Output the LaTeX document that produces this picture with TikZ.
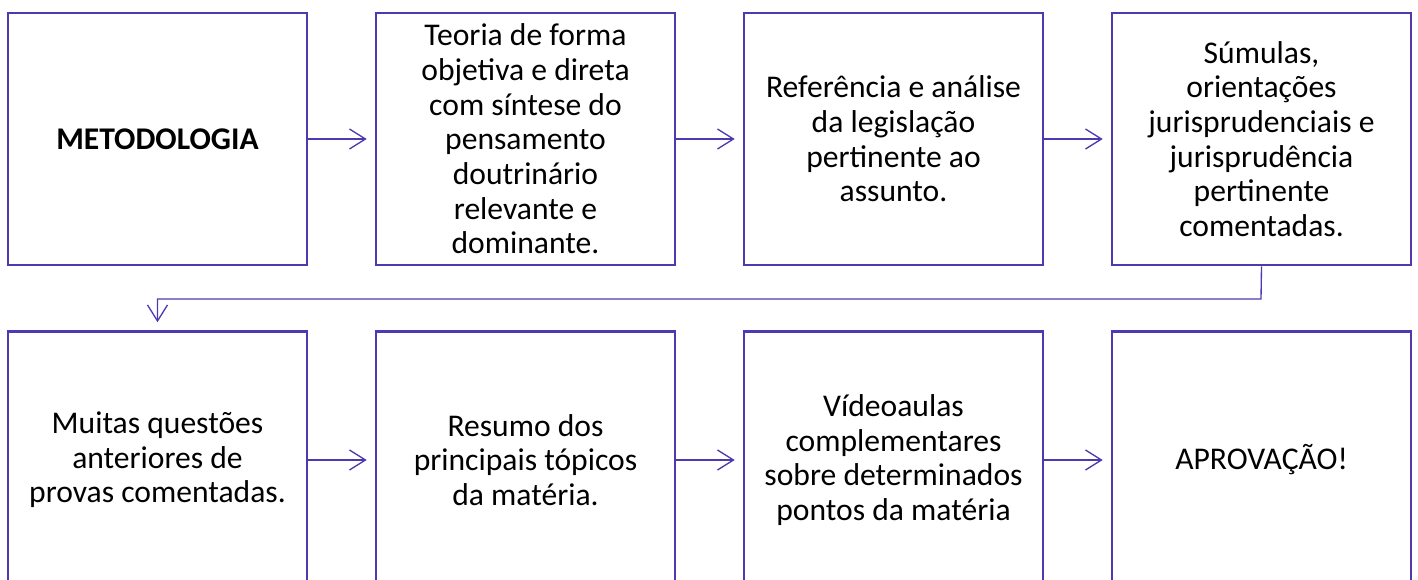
\documentclass[tikz,border=0pt]{standalone}
\usepackage{fontspec}
\setmainfont{Carlito}
\usetikzlibrary{arrows.meta,positioning}
\definecolor{roxo}{RGB}{78,58,176}

\begin{document}
\begin{tikzpicture}[x=0.75pt,y=-0.75pt,->,>={Straight Barb[length=12pt,width=15pt]},
  shorten >=6pt,node distance=276pt,roxo,line width=1pt]
\tikzstyle{etapa}=[draw=roxo,line width=1.9pt,text=black,align=center,
  minimum width=224.25pt,minimum height=189pt,inner sep=0pt,
  font=\fontsize{23.7pt}{26pt}\selectfont]
\tikzstyle{etapa2}=[etapa,minimum height=192.75pt]
\clip (0,0) rectangle (1418,579);
\node[etapa] (M) at (157.5,139) {\textbf{METODOLOGIA}};
\node[etapa][right of=M] (T) {Teoria de forma\\objetiva e direta\\com síntese do\\pensamento\\doutrinário\\relevante e\\dominante.};
\node[etapa][right of=T] (R) {Referência e análise\\da legislação\\pertinente ao\\assunto.};
\node[etapa][right of=R] (S) {Súmulas,\\orientações\\jurisprudenciais e\\jurisprudência\\pertinente\\comentadas.};
\node[etapa2][below of=M,node distance=240.75pt] (Q) {Muitas questões\\anteriores de\\provas comentadas.};
\node[etapa2][right of=Q] (Z) {Resumo dos\\principais tópicos\\da matéria.};
\node[etapa2][right of=Z] (V) {Vídeoaulas\\complementares\\sobre determinados\\pontos da matéria};
\node[etapa2][right of=V] (A) {APROVAÇÃO!};
\coordinate (dobra) at (1261,299);
\path (M) edge (T)
      (T) edge (R)
      (R) edge (S)
      (Q) edge (Z)
      (Z) edge (V)
      (V) edge (A);
\draw (S.south) -- (dobra) -| (Q.north);
\end{tikzpicture}
\end{document}
